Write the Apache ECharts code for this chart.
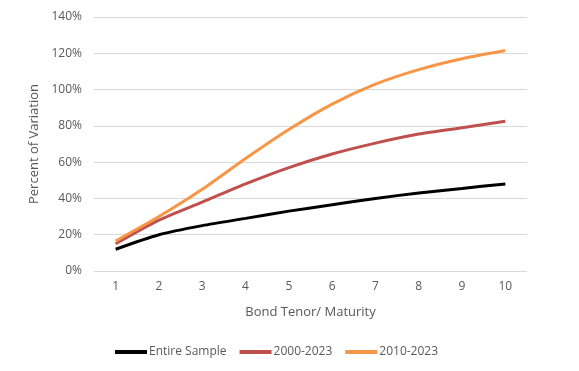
<!DOCTYPE html>
<html>
<head>
<meta charset="utf-8">
<script src="https://cdn.jsdelivr.net/npm/echarts@6/dist/echarts.min.js"></script>
<style>html,body{margin:0;padding:0;background:#fff}#c{width:579px;height:371px}</style>
</head>
<body>
<div id="c"></div>
<script>
const categories = ['1','2','3','4','5','6','7','8','9','10'];
const entireSample = [12, 20, 25, 29, 33, 36.5, 40, 43, 45.5, 48];
const p2000_2023 = [15, 28, 38, 48, 57, 64.5, 70.5, 75.5, 79, 82.5];
const p2010_2023 = [16.5, 30, 45, 62, 78, 92, 103, 111, 117, 121.5];
const seriesNames = ['Entire Sample', '2000-2023', '2010-2023'];
const colors = ['#000000', '#C0504D', '#F79646'];

const chart = echarts.init(document.getElementById('c'));
const font = 'Open Sans, Liberation Sans, sans-serif';
const mk = (name, data, color) => ({
  name, type: 'line', data, smooth: 0.25, symbol: 'none',
  lineStyle: {width: 3, color}, itemStyle: {color}
});
chart.setOption({
  animation: false,
  grid: {left: 94, right: 52, top: 17, bottom: 100},
  xAxis: {
    type: 'category', data: categories, boundaryGap: true,
    axisLine: {show: false}, axisTick: {show: false},
    axisLabel: {color: '#595959', fontSize: 12, fontFamily: font, margin: 10},
    name: 'Bond Tenor/ Maturity', nameLocation: 'middle', nameGap: 35,
    nameTextStyle: {color: '#595959', fontSize: 13, fontFamily: font}
  },
  yAxis: {
    type: 'value', min: 0, max: 140, interval: 20,
    axisLine: {show: false}, axisTick: {show: false},
    splitLine: {lineStyle: {color: '#D9D9D9', width: 1}},
    axisLabel: {color: '#595959', fontSize: 12, fontFamily: font, margin: 12, formatter: v => v + '%'},
    name: 'Percent of Variation', nameLocation: 'middle', nameGap: 43,
    nameTextStyle: {color: '#595959', fontSize: 13, fontFamily: font}
  },
  legend: {
    bottom: 8, left: 110, itemWidth: 32, itemHeight: 4, itemGap: 13, icon: 'rect',
    textStyle: {color: '#595959', fontSize: 12, fontFamily: font, padding: [0,0,0,-3]},
    data: seriesNames
  },
  series: [
    mk(seriesNames[0], entireSample, colors[0]),
    mk(seriesNames[1], p2000_2023, colors[1]),
    mk(seriesNames[2], p2010_2023, colors[2])
  ]
});
</script>
</body>
</html>
